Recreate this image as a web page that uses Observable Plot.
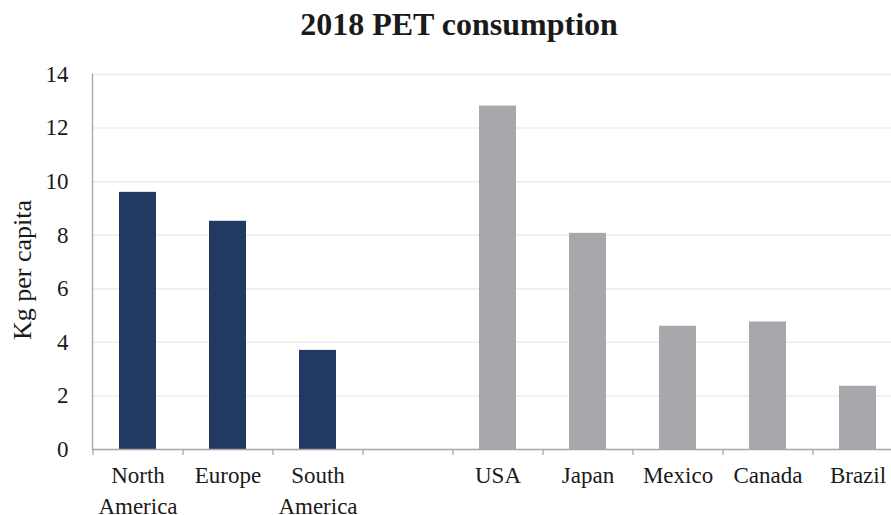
<!DOCTYPE html>
<html>
<head>
<meta charset="utf-8">
<script src="https://cdn.jsdelivr.net/npm/d3@7"></script>
<script src="https://cdn.jsdelivr.net/npm/@observablehq/plot@0.6"></script>
<style>
  html, body { margin: 0; padding: 0; background: #fff; overflow: hidden; }
  #wrap { position: relative; width: 891px; height: 515px; }
  #title { position: absolute; left: 0; top: 4px; width: 918px; text-align: center;
    font-family: "Liberation Serif", "Times New Roman", serif; font-weight: bold;
    font-size: 32px; line-height: 40px; color: #1a1a1a; }
  svg { display: block; }
  svg text { font-family: "Liberation Serif", "Times New Roman", serif; }
</style>
</head>
<body>
<div id="wrap">
  <div id="chart"></div>
  <div id="title">2018 PET consumption</div>
</div>
<script>
const categories = ["North America", "Europe", "South America", "", "USA", "Japan", "Mexico", "Canada", "Brazil"];
const values = [9.6, 8.52, 3.7, null, 12.82, 8.07, 4.6, 4.76, 2.36];
const groups = ["region", "region", "region", "none", "country", "country", "country", "country", "country"];
const yTicks = [0, 2, 4, 6, 8, 10, 12, 14];
const yLabel = "Kg per capita";

const data = categories.map((c, i) => ({category: c, value: values[i], group: groups[i]}));
const bars = data.filter(d => d.value != null);

const font = "'Liberation Serif', 'Times New Roman', serif";
const axisGray = "#a6a6a6";

const chart = Plot.plot({
  width: 891,
  height: 515,
  marginLeft: 92,
  marginRight: -11,
  marginTop: 74,
  marginBottom: 66,
  style: {fontFamily: font, fontSize: "23px", color: "#1a1a1a", background: "white"},
  x: {domain: categories, paddingInner: 0.59, paddingOuter: 0.295, axis: null},
  y: {domain: [0, 14], axis: null},
  color: {domain: ["region", "country"], range: ["#213963", "#a7a8ac"]},
  marks: [
    Plot.gridY(yTicks.filter(t => t > 0), {stroke: "#ececec", strokeOpacity: 1, strokeWidth: 1.5}),
    Plot.barY(bars, {x: "category", y: "value", fill: "group"}),
    Plot.ruleY([0], {stroke: axisGray, strokeWidth: 1.3}),
    Plot.frame({anchor: "left", stroke: axisGray, strokeWidth: 1.3}),
    Plot.axisY({ticks: yTicks, tickSize: 0, tickPadding: 24, fontSize: 23, fontFamily: font, label: null}),
    Plot.axisX({tickSize: 6, tickFormat: () => "", dx: -45, stroke: axisGray, strokeWidth: 1.3, label: null}),
    Plot.axisX({tickSize: 0, tickPadding: 12, fontSize: 23, fontFamily: font, lineHeight: 1.33, label: null,
      tickFormat: d => d.replace(" ", "\n")}),
    Plot.text([yLabel], {frameAnchor: "left", dx: -70, dy: 8, rotate: -90, fontSize: 26, fontFamily: font,
      textAnchor: "middle", lineAnchor: "middle", text: d => d})
  ]
});
document.getElementById("chart").appendChild(chart);
</script>
</body>
</html>
